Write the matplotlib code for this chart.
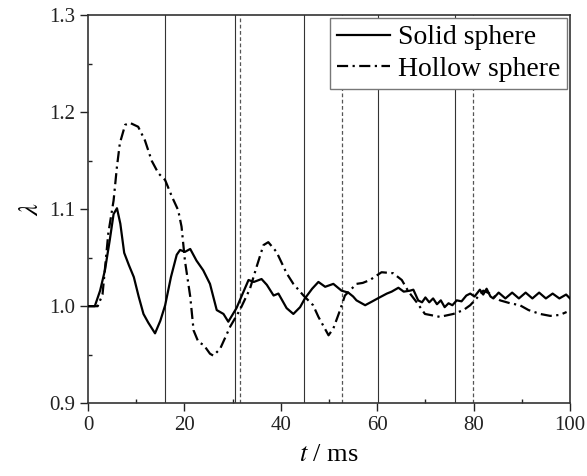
import matplotlib
matplotlib.use("Agg")
import matplotlib.pyplot as plt
from matplotlib.ticker import MultipleLocator

plt.rcParams['font.family'] = ['Liberation Serif', 'DejaVu Serif']
plt.rcParams['mathtext.fontset'] = 'stix'

# solid sphere
t_solid = [0, 1.4, 2.5, 3.5, 4.5, 5.3, 6.0, 6.7, 7.5, 8.5, 9.5, 10.5, 11.5, 12.5, 13.9,
           15.0, 16.0, 17.2, 18.4, 19.1, 20.1, 21.2, 22.5, 23.9, 25.3, 26.7, 28.1, 29.1,
           30.8, 32.0, 33.3, 34.4, 36.0, 37.1, 38.5, 39.5, 41.2, 42.6, 44.0, 45.0, 46.5,
           47.8, 49.2, 50.9, 52.6, 54.0, 55.0, 55.7, 57.5, 59.0, 60.1, 62.0, 63.0, 64.4,
           65.5, 66.8, 67.5, 68.5, 69.3, 70.0, 70.8, 71.6, 72.4, 73.2, 74.0, 74.8, 75.6,
           76.5, 77.5, 78.5, 79.3, 80.2, 81.3, 82.0, 82.7, 83.5, 84.1, 85.2, 86.6, 88.0,
           89.4, 90.8, 92.2, 93.6, 95.0, 96.4, 97.8, 99.2, 100]
lam_solid = [1.000, 1.000, 1.016, 1.037, 1.068, 1.095, 1.101, 1.085, 1.055, 1.042, 1.030,
             1.010, 0.992, 0.983, 0.972, 0.985, 1.001, 1.030, 1.053, 1.058, 1.056, 1.059,
             1.047, 1.037, 1.023, 0.996, 0.992, 0.984, 0.998, 1.012, 1.027, 1.025, 1.028,
             1.022, 1.011, 1.013, 0.998, 0.992, 0.999, 1.008, 1.018, 1.025, 1.020, 1.023,
             1.016, 1.014, 1.010, 1.006, 1.001, 1.005, 1.008, 1.013, 1.015, 1.019, 1.015,
             1.016, 1.017, 1.006, 1.004, 1.009, 1.004, 1.008, 1.002, 1.006, 0.999, 1.003,
             1.001, 1.006, 1.005, 1.011, 1.013, 1.010, 1.017, 1.012, 1.018, 1.010, 1.008,
             1.014, 1.008, 1.014, 1.008, 1.014, 1.008, 1.014, 1.008, 1.013, 1.008, 1.012,
             1.008]

# hollow sphere
t_hollow = [0, 2.0, 3.0, 4.2, 5.3, 6.0, 6.6, 7.7, 8.7, 10.4, 11.8, 13.2, 14.6, 16.0, 17.4,
            18.7, 19.4, 20.1, 21.2, 21.9, 22.9, 24.0, 25.3, 26.0, 27.4, 29.5, 31.5, 33.6,
            35.0, 36.4, 37.4, 39.1, 41.2, 42.6, 44.7, 46.7, 47.8, 49.9, 50.9, 52.3, 53.3,
            55.7, 57.0, 58.5, 60.9, 63.3, 65.1, 66.5, 68.2, 69.9, 73.0, 75.8, 77.9, 79.3,
            80.6, 82.0, 83.4, 85.5, 87.6, 89.6, 91.4, 93.8, 95.9, 97.9, 99.3]
lam_hollow = [1.000, 1.000, 1.012, 1.075, 1.109, 1.144, 1.168, 1.187, 1.189, 1.185, 1.171,
              1.150, 1.137, 1.130, 1.113, 1.099, 1.082, 1.047, 1.010, 0.975, 0.963, 0.960,
              0.951, 0.949, 0.956, 0.979, 0.996, 1.018, 1.041, 1.063, 1.066, 1.056, 1.034,
              1.023, 1.011, 1.001, 0.989, 0.970, 0.977, 0.996, 1.011, 1.023, 1.024, 1.027,
              1.035, 1.034, 1.027, 1.015, 1.004, 0.992, 0.989, 0.992, 0.996, 1.001, 1.008,
              1.016, 1.013, 1.006, 1.003, 1.001, 0.996, 0.992, 0.990, 0.991, 0.994]

solid_marks = [15.9, 30.4, 44.8, 60.1, 76.2]
dashed_marks = [31.5, 52.7, 79.9]

fig = plt.figure(figsize=(5.87, 4.76), dpi=100)
ax = fig.add_axes([0.150, 0.153, 0.821, 0.815])

for x in solid_marks:
    ax.axvline(x, color='#333333', lw=0.8, zorder=1)
for x in dashed_marks:
    ax.axvline(x, color='#555555', lw=0.9, ls=(0, (3, 2)), zorder=1)

ax.plot(t_solid, lam_solid, color='black', lw=1.6, label='Solid sphere', zorder=3)
ax.plot(t_hollow, lam_hollow, color='black', lw=1.6, ls=(0, (5, 2, 1, 2)),
        label='Hollow sphere', zorder=3)

ax.set_xlim(0, 100)
ax.set_ylim(0.9, 1.3)
ax.xaxis.set_major_locator(MultipleLocator(20))
ax.xaxis.set_minor_locator(MultipleLocator(10))
ax.yaxis.set_major_locator(MultipleLocator(0.1))
ax.yaxis.set_minor_locator(MultipleLocator(0.05))
ax.yaxis.set_major_formatter(matplotlib.ticker.FormatStrFormatter('%.1f'))
ax.tick_params(which='major', direction='out', length=6, width=1.0, labelsize=15,
               colors='#222222')
ax.tick_params(which='minor', direction='in', length=3, width=1.0, colors='#222222')
for s in ax.spines.values():
    s.set_color('#333333')
    s.set_linewidth(1.2)

ax.set_xlabel(r'$t$ / ms', fontsize=19, labelpad=6)
ax.set_ylabel(r'$\lambda$', fontsize=19, labelpad=4)

leg = ax.legend(loc='upper right', fontsize=20, frameon=True, fancybox=False,
                borderaxespad=0.1, handlelength=1.9, handletextpad=0.3,
                borderpad=0.25, labelspacing=0.22)
leg.get_frame().set_edgecolor('#777777')
leg.get_frame().set_linewidth(1.0)
leg.get_frame().set_alpha(1.0)
leg.set_zorder(5)

fig.savefig('out.png', dpi=100)
